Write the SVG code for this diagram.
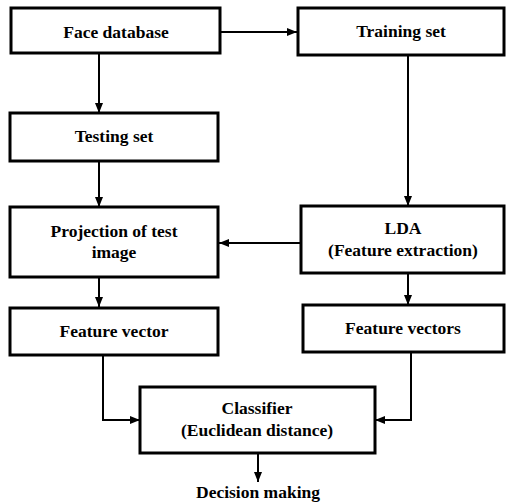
<svg xmlns="http://www.w3.org/2000/svg" width="508" height="502" viewBox="0 0 508 502">
<defs>
<marker id="ah" viewBox="0 0 10 8" refX="10" refY="4" markerWidth="10" markerHeight="8" markerUnits="userSpaceOnUse" orient="auto">
<path d="M0,0 L10,4 L0,8 Z" fill="#000"/>
</marker>
</defs>
<style>
.box{fill:#fff;stroke:#000;stroke-width:3}
.t{font-family:"Liberation Serif","Times New Roman","DejaVu Serif",serif;font-size:17.5px;font-weight:bold;text-anchor:middle;fill:#000}
.c{fill:none;stroke:#000;stroke-width:2;marker-end:url(#ah)}
</style>
<rect width="508" height="502" fill="#fff"/>
<g id="connectors">
<path class="c" d="M221,32 H297"/>
<path class="c" d="M99,53 V113"/>
<path class="c" d="M408,55 V206"/>
<path class="c" d="M99,161 V207"/>
<path class="c" d="M301,243 H219"/>
<path class="c" d="M99,277 V307"/>
<path class="c" d="M408,273 V305"/>
<path class="c" d="M103,355 V420 H140"/>
<path class="c" d="M411,352 V420 H375"/>
<path class="c" d="M258,453 V482"/>
</g>
<g id="face-database"><rect class="box" x="11" y="8" width="209" height="45"/><text class="t" x="116" y="38">Face database</text></g>
<g id="training-set"><rect class="box" x="298" y="8" width="206" height="47"/><text class="t" x="401" y="37">Training set</text></g>
<g id="testing-set"><rect class="box" x="10" y="113" width="208" height="48"/><text class="t" x="114" y="142">Testing set</text></g>
<g id="projection"><rect class="box" x="10" y="207" width="208" height="70"/><text class="t" x="114" y="237">Projection of test</text><text class="t" x="114" y="258">image</text></g>
<g id="lda"><rect class="box" x="301" y="206" width="203" height="67"/><text class="t" x="403" y="234">LDA</text><text class="t" x="403" y="256">(Feature extraction)</text></g>
<g id="feature-vector"><rect class="box" x="10" y="308" width="208" height="47"/><text class="t" x="114" y="337">Feature vector</text></g>
<g id="feature-vectors"><rect class="box" x="303" y="305" width="201" height="47"/><text class="t" x="403" y="334">Feature vectors</text></g>
<g id="classifier"><rect class="box" x="140" y="387" width="235" height="66"/><text class="t" x="257" y="414">Classifier</text><text class="t" x="257" y="436">(Euclidean distance)</text></g>
<g id="decision"><text class="t" x="258" y="498">Decision making</text></g>
</svg>
